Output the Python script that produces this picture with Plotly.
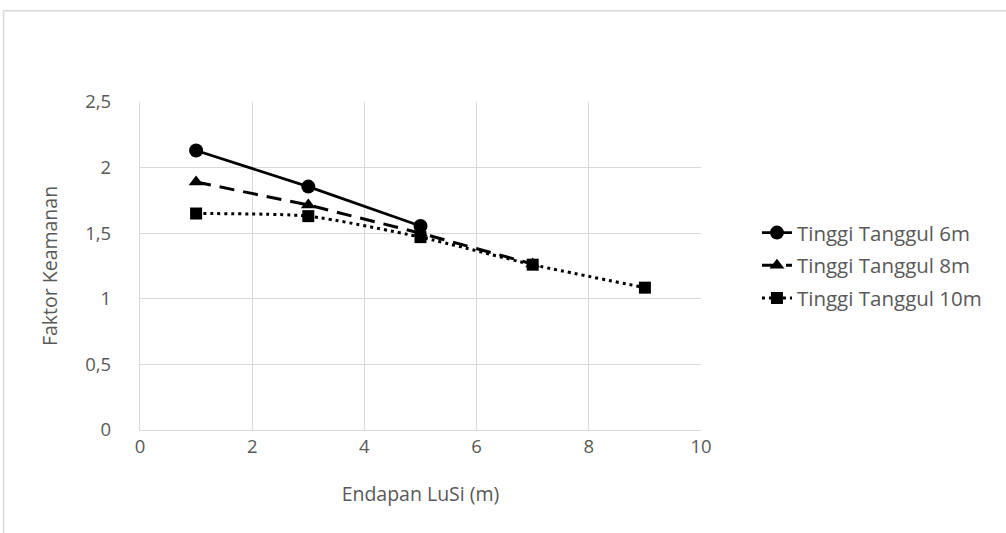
import plotly.graph_objects as go

# Deposit thickness (m) and safety factor per embankment height
endapan_6m = [1, 3, 5]
faktor_6m = [2.13, 1.855, 1.555]

endapan_8m = [1, 3, 5, 7]
faktor_8m = [1.89, 1.715, 1.50, 1.265]

endapan_10m = [1, 3, 5, 7, 9]
faktor_10m = [1.65, 1.63, 1.47, 1.26, 1.085]

x_ticks = [0, 2, 4, 6, 8, 10]
y_ticks = [0, 0.5, 1, 1.5, 2, 2.5]
y_tick_text = ["0", "0,5", "1", "1,5", "2", "2,5"]

W, H = 1006, 533
L, R, T, B = 139.5, 701, 101.5, 430

FONT = "Open Sans, Lato, sans-serif"
GREY = "#595959"
GRID = "#d9d9d9"

fig = go.Figure()

fig.add_trace(go.Scatter(
    x=endapan_6m, y=faktor_6m, name="Tinggi Tanggul 6m", mode="lines+markers",
    legendgroup="g6",
    line=dict(color="black", width=2.75),
    marker=dict(symbol="circle", size=14, color="black"),
))
fig.add_trace(go.Scatter(
    x=endapan_8m, y=faktor_8m, name="Tinggi Tanggul 8m", mode="lines+markers",
    legendgroup="g8",
    line=dict(color="black", width=3, dash="15px,9px"),
    marker=dict(symbol="triangle-up", size=13, color="black"),
))
fig.add_trace(go.Scatter(
    x=endapan_10m, y=faktor_10m, name="Tinggi Tanggul 10m", mode="lines+markers",
    legendgroup="g10",
    line=dict(color="black", width=3, dash="3px,4px", shape="spline", smoothing=0.6),
    marker=dict(symbol="square", size=12, color="black"),
))

def px_x(p):
    return (p - L) / (R - L)

def px_y(p):
    return (B - p) / (B - T)

# outer chart-area border (top and left edges)
border = dict(color=GRID, width=1.5)
fig.add_shape(type="line", xref="paper", yref="paper",
              x0=px_x(3), x1=px_x(W + 5), y0=px_y(10), y1=px_y(10), line=border)
fig.add_shape(type="line", xref="paper", yref="paper",
              x0=px_x(3), x1=px_x(3), y0=px_y(10), y1=px_y(H + 5), line=border)

fig.update_layout(
    width=W, height=H,
    margin=dict(l=L, r=W - R, t=T, b=H - B, pad=0),
    paper_bgcolor="white", plot_bgcolor="white",
    font=dict(family=FONT, size=18, color=GREY),
    showlegend=True,
    legend=dict(
        x=px_x(757), y=px_y(265), xanchor="left", yanchor="middle",
        font=dict(family=FONT, size=20.5, color=GREY),
        bgcolor="rgba(0,0,0,0)", tracegroupgap=3, itemwidth=30,
    ),
    xaxis=dict(
        range=[0, 10], tickvals=x_ticks, ticktext=[str(v) for v in x_ticks],
        showgrid=True, gridcolor=GRID, gridwidth=1.3,
        showline=True, linecolor=GRID, linewidth=1.3, mirror=False,
        zeroline=False, ticks="", ticklen=0,
        title=dict(text="Endapan LuSi (m)", font=dict(size=19.5, color=GREY), standoff=30),
        tickfont=dict(size=18.5, color=GREY),
    ),
    yaxis=dict(
        range=[0, 2.5], tickvals=y_ticks, ticktext=y_tick_text,
        showgrid=True, gridcolor=GRID, gridwidth=1.3,
        showline=True, linecolor=GRID, linewidth=1.3,
        zeroline=False, ticks="outside", ticklen=24, tickcolor="rgba(0,0,0,0)",
        title=dict(text="Faktor Keamanan", font=dict(size=19.5, color=GREY), standoff=22),
        tickfont=dict(size=18.5, color=GREY),
    ),
)

fig.write_html("out.html")
